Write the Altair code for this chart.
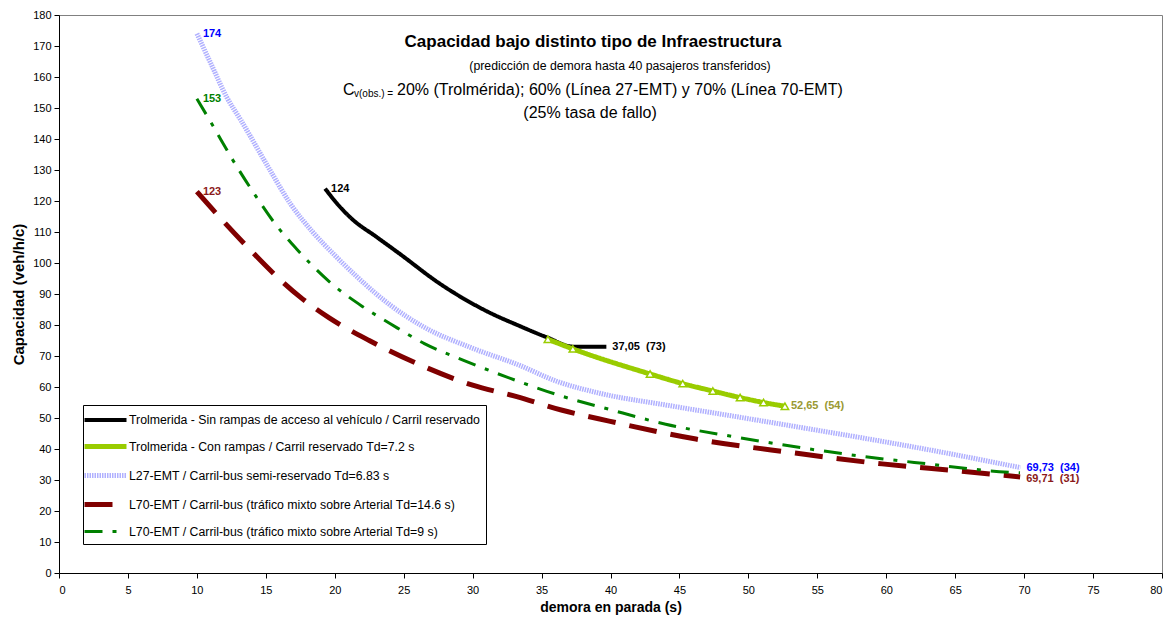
import altair as alt
import pandas as pd

# ---------------- data ----------------
series_names = [
    "Trolmerida - Sin rampas de acceso al vehículo / Carril reservado",
    "Trolmerida - Con rampas / Carril reservado Td=7.2 s",
    "L27-EMT / Carril-bus semi-reservado Td=6.83 s",
    "L70-EMT / Carril-bus (tráfico mixto sobre Arterial Td=14.6 s)",
    "L70-EMT / Carril-bus (tráfico mixto sobre Arterial Td=9 s)",
]

black_x = [19.3, 20.2, 21.3, 23.0, 24.7, 27.6, 31.0, 33.5, 35.4, 37.3, 39.7]
black_y = [124, 119, 114, 108.5, 103, 93.4, 84.5, 79.5, 76, 73, 73]

tram_x = [35.46, 37.27, 42.87, 45.24, 47.42, 49.4, 51.1, 52.65]
tram_y = [75.4, 72.3, 64.2, 61.1, 58.7, 56.6, 55.0, 53.8]

l27_x = [10, 11, 12.15, 13.2, 15.3, 16.8, 18.4, 20, 21.6, 24, 26.4, 30, 33.4, 36,
         39.2, 44, 48.9, 54, 58.5, 64, 69.73]
l27_y = [174, 164.5, 153.6, 146, 130, 119, 110, 102.5, 95.6, 86.5, 79.5, 72.5, 67, 62,
         58, 54.2, 50.6, 46.8, 43.4, 39, 34]

l70a_x = [10, 11.3, 13.6, 15.9, 17.5, 19.6, 22.5, 26, 30, 33.2, 36.5, 39.9, 46.2, 53.2,
          59.7, 65, 69.71]
l70a_y = [123, 116.5, 105.5, 95.2, 89, 82.3, 75, 67.5, 60.6, 56.9, 52.5, 49, 43.2, 38.8,
          35.2, 33, 31]

l70b_x = [10, 11.2, 12.5, 14.3, 15.7, 17.2, 19.6, 22, 24, 26.5, 29.3, 33.4, 36.5, 39.9,
          44, 48.9, 54, 58.5, 63, 68.2, 69.7]
l70b_y = [153, 144, 134, 121.4, 112.5, 104.7, 94, 86, 80.5, 74, 68.7, 61.7, 57, 52.8,
          48, 44, 40.3, 37.5, 35.2, 32.7, 32.3]

label_text = ["174", "153", "123", "124", "37,05\u00a0\u00a0(73)", "52,65\u00a0\u00a0(54)",
              "69,73\u00a0\u00a0(34)", "69,71\u00a0\u00a0(31)"]
label_x = [10, 10, 10, 19.3, 39.7, 52.65, 69.73, 69.71]
label_y = [174, 153, 123, 124, 73, 54, 34, 31]
label_color = ["#0000FF", "#008000", "#8B1A1A", "#000000", "#000000", "#999933",
               "#0000FF", "#8B1A1A"]

x_ticks = list(range(0, 81, 5))
y_ticks = list(range(0, 181, 10))

series_colors = ["#000000", "#99CC00", "#B0B0FF", "#800000", "#008000"]
series_dashes = [[1, 0], [1, 0], [1.5, 1], [28, 14], [18, 10, 4, 10]]
series_widths = [4, 5, 5, 5, 3]

rows = []
for name, xs, ys in zip(series_names,
                        [black_x, tram_x, l27_x, l70a_x, l70b_x],
                        [black_y, tram_y, l27_y, l70a_y, l70b_y]):
    for i, (a, b) in enumerate(zip(xs, ys)):
        rows.append({"serie": name, "demora": a, "capacidad": b, "orden": i})
df = pd.DataFrame(rows)
labels_df = pd.DataFrame({"texto": label_text, "demora": label_x,
                          "capacidad": label_y, "color": label_color})

FONT = "Liberation Sans"

x_axis = alt.Axis(values=x_ticks, title="demora en parada (s)", grid=False,
                  labelFontSize=11, titleFontSize=14, titleFontWeight="bold",
                  tickSize=5, labelPadding=6, titlePadding=5, labelOverlap=False,
                  domainColor="black", tickColor="black",
                  labelColor="black", titleColor="black")
y_axis = alt.Axis(values=y_ticks, title="Capacidad (veh/h/c)", grid=False,
                  labelFontSize=11, titleFontSize=15, titleFontWeight="bold",
                  tickSize=5, labelPadding=3, titlePadding=6, labelOverlap=False,
                  domainColor="black", tickColor="black",
                  labelColor="black", titleColor="black")
x_scale = alt.Scale(domain=[0, 80], nice=False)
y_scale = alt.Scale(domain=[0, 180], nice=False)


def X():
    return alt.X("demora:Q", scale=x_scale, axis=x_axis)


def Y():
    return alt.Y("capacidad:Q", scale=y_scale, axis=y_axis)


legend = alt.Legend(orient="none", legendX=24, legendY=390, title=None,
                    symbolType="M-2,0H4", symbolSize=196, labelFontSize=12.3,
                    labelLimit=600, strokeColor="black", fillColor="white",
                    padding=6, rowPadding=8, labelOffset=21, labelFont=FONT,
                    labelColor="black")

lines = alt.Chart(df).mark_line(interpolate="monotone", strokeCap="butt").encode(
    x=X(),
    y=Y(),
    color=alt.Color("serie:N", scale=alt.Scale(domain=series_names, range=series_colors),
                    legend=legend),
    strokeDash=alt.StrokeDash("serie:N",
                              scale=alt.Scale(domain=series_names, range=series_dashes),
                              legend=legend),
    strokeWidth=alt.StrokeWidth("serie:N",
                                scale=alt.Scale(type="ordinal", domain=series_names,
                                                range=series_widths),
                                legend=legend),
    order="orden:Q",
)

tri = alt.Chart(df).transform_filter(
    alt.datum.serie == series_names[1]
).mark_point(shape="triangle-up", filled=True, fill="white", stroke="#99CC00",
             strokeWidth=1.5, size=55, opacity=1).encode(x=X(), y=Y())

labels = alt.Chart(labels_df).transform_filter(
    alt.datum.capacidad != 31
).mark_text(
    align="left", baseline="middle", dx=6, fontSize=11, fontWeight="bold", font=FONT
).encode(x=X(), y=Y(), text="texto:N", color=alt.Color("color:N", scale=None))

labels_low = alt.Chart(labels_df).transform_filter(
    alt.datum.capacidad == 31
).mark_text(
    align="left", baseline="middle", dx=6, dy=2, fontSize=11, fontWeight="bold", font=FONT
).encode(x=X(), y=Y(), text="texto:N", color=alt.Color("color:N", scale=None))

one = pd.DataFrame({"k": [0]})


def txt(s, x, y, size, weight="normal", align="center"):
    return alt.Chart(one).mark_text(
        text=s, fontSize=size, fontWeight=weight, align=align, baseline="alphabetic",
        font=FONT, color="black"
    ).encode(x=alt.value(x), y=alt.value(y))


t1 = txt("Capacidad bajo distinto tipo de Infraestructura", 534, 32, 17, "bold")
t2 = txt("(predicción de demora hasta 40 pasajeros transferidos)", 561, 55, 12.3)
t3a = txt("C", 284, 80, 16, align="left")
t3b = txt("v(obs.) =", 295, 82, 10, align="left")
t3c = txt("20% (Trolmérida); 60% (Línea 27-EMT) y 70% (Línea 70-EMT)", 338, 80, 16,
          align="left")
t4 = txt("(25% tasa de fallo)", 531, 103, 16)

chart = alt.layer(lines, tri, labels, labels_low, t1, t2, t3a, t3b, t3c, t4).properties(
    width=1103, height=558,
    autosize=alt.AutoSizeParams(type="none"),
    padding={"left": 51, "top": 7, "right": 6, "bottom": 45},
).configure(font=FONT).configure_view(stroke="#808080", strokeWidth=1)

chart.save("out.html", embed_options={"renderer": "svg", "actions": False})
